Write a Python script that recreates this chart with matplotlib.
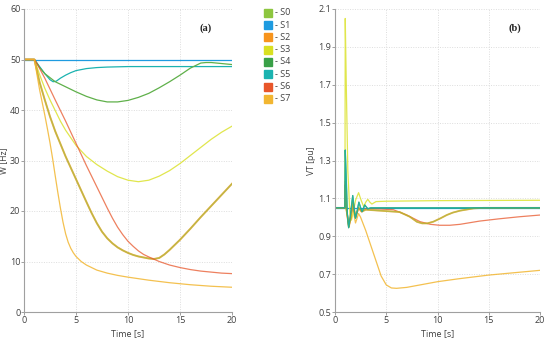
import matplotlib
matplotlib.use("Agg")
import matplotlib.pyplot as plt
from matplotlib.patches import Rectangle

plt.rcParams['font.family'] = ['Open Sans', 'DejaVu Sans']

series = ['S0', 'S1', 'S2', 'S3', 'S4', 'S5', 'S6', 'S7']
colors = ['#8dc63f', '#1e9be0', '#f7941d', '#d9e021', '#39a047', '#1bb3b0', '#e8562a', '#f2b631']

# ---------- Panel (a): W [Hz] ----------
a_t_flat = [0, 20]
a_S1 = [50, 50]

a_t_S5 = [0, 1, 1.25, 1.5, 1.75, 2, 2.25, 2.5, 2.8, 3.1, 3.5, 4, 4.5, 5, 6, 7, 8, 10, 14, 20]
a_S5 = [50, 50, 49.3, 48.6, 47.9, 47.2, 46.6, 46.0, 45.6, 45.7, 46.3, 46.9, 47.4, 47.8,
        48.2, 48.4, 48.5, 48.6, 48.6, 48.6]

a_t_S4 = [0, 1, 1.5, 2, 3, 4, 5, 6, 7, 8, 9, 10, 11, 12, 13, 14, 15, 16, 17, 17.5, 18, 19, 20]
a_S4 = [50, 50, 48.4, 47.2, 45.6, 44.6, 43.6, 42.7, 42.0, 41.6, 41.6, 41.9, 42.5, 43.3,
        44.4, 45.6, 46.9, 48.3, 49.3, 49.4, 49.4, 49.2, 49.0]

a_t_S3 = [0, 1, 1.5, 2, 2.5, 3, 3.5, 4, 5, 6, 7, 8, 9, 10, 11, 12, 13, 14, 15, 16, 17, 18, 19, 20]
a_S3 = [50, 50, 47.0, 44.3, 42.0, 39.9, 37.8, 36.0, 33.0, 30.8, 29.2, 27.9, 26.8, 26.1,
        25.8, 26.1, 26.9, 28.0, 29.4, 31.0, 32.6, 34.2, 35.6, 36.8]

a_t_S02 = [0, 1, 1.5, 2, 2.5, 3, 4, 5, 6, 6.5, 7, 7.5, 8, 8.5, 9, 9.5, 10, 10.5, 11, 11.5,
           12, 12.5, 13, 13.5, 14, 15, 16, 17, 18, 19, 20]
a_S02 = [50, 50, 45.5, 42.0, 38.7, 35.8, 30.8, 26.3, 21.8, 19.6, 17.6, 15.9, 14.6, 13.6,
         12.8, 12.2, 11.7, 11.3, 11.0, 10.8, 10.6, 10.5, 10.7, 11.4, 12.3, 14.3, 16.5,
         18.8, 21.0, 23.2, 25.4]

a_t_S6 = [0, 1, 1.3, 2, 3, 4, 5, 6, 7, 8, 8.5, 9, 9.5, 10, 10.5, 11, 11.5, 12, 13, 14, 15,
          16, 17, 18, 19, 20]
a_S6 = [50, 50, 49.0, 46.3, 42.0, 37.8, 33.4, 29.0, 24.8, 20.6, 18.6, 16.8, 15.3, 14.0,
        13.0, 12.1, 11.4, 10.9, 10.0, 9.3, 8.8, 8.4, 8.1, 7.9, 7.7, 7.6]

a_t_S7 = [0, 1, 1.25, 1.5, 1.75, 2, 2.25, 2.5, 2.75, 3, 3.25, 3.5, 3.75, 4, 4.25, 4.5,
          4.75, 5, 5.5, 6, 7, 8, 9, 10, 12, 14, 16, 18, 20]
a_S7 = [50, 50, 47.0, 44.0, 41.5, 39.0, 36.3, 33.5, 30.4, 27.0, 23.7, 20.6, 17.8, 15.5,
        13.8, 12.6, 11.7, 11.0, 10.0, 9.3, 8.3, 7.7, 7.25, 6.9, 6.3, 5.8, 5.4, 5.1, 4.9]

# ---------- Panel (b): VT [pu] ----------
b_S1 = [1.05, 1.05]

b_t_osc = [0, 0.97, 1.0, 1.1, 1.2, 1.33, 1.5, 1.73, 1.9, 2.0, 2.15, 2.33, 2.5, 2.65, 2.9, 3.2, 3.5, 20]
b_S45 = [1.05, 1.05, 1.355, 1.2, 1.02, 0.945, 1.01, 1.115, 1.03, 0.995, 1.03, 1.08, 1.05,
         1.03, 1.065, 1.045, 1.05, 1.05]

b_t_S3 = [0, 0.97, 1.0, 1.1, 1.25, 1.45, 1.6, 1.8, 2.0, 2.3, 2.55, 2.8, 3.0, 3.2, 3.4, 3.6, 4.0, 5, 10, 20]
b_S3 = [1.05, 1.05, 2.05, 1.7, 1.25, 1.02, 0.985, 1.03, 1.09, 1.13, 1.09, 1.056, 1.08,
        1.095, 1.08, 1.07, 1.083, 1.085, 1.088, 1.09]

b_t_S02 = [0, 0.97, 1.0, 1.1, 1.35, 1.55, 1.75, 2.0, 2.3, 2.6, 3.0, 4.4, 6.3, 7.3, 8.0, 8.5,
           9.0, 9.6, 10.3, 10.9, 11.5, 12.2, 13.5, 14.5, 20]
b_S02 = [1.05, 1.05, 1.17, 1.05, 0.95, 1.0, 1.08, 1.0, 1.05, 1.03, 1.04, 1.035, 1.028,
         1.003, 0.976, 0.968, 0.968, 0.977, 0.995, 1.012, 1.025, 1.035, 1.047, 1.05, 1.05]

b_t_S6 = [0, 0.97, 1.0, 1.1, 1.35, 1.55, 1.75, 2.0, 2.3, 2.6, 3.0, 4.4, 5.7, 7.0, 8.3, 9.3,
          10.2, 11.2, 12.2, 14.1, 16, 18, 20]
b_S6 = [1.05, 1.05, 1.19, 1.06, 0.95, 1.0, 1.07, 1.0, 1.05, 1.03, 1.045, 1.044, 1.04,
        1.012, 0.977, 0.963, 0.958, 0.958, 0.963, 0.98, 0.992, 1.003, 1.012]

b_t_S7 = [0, 0.97, 1.0, 1.1, 1.35, 1.7, 2.0, 2.3, 2.5, 3.0, 3.5, 4.0, 4.5, 5.0, 5.5, 6.0,
          7, 8, 10, 12, 15, 18, 20]
b_S7 = [1.05, 1.05, 1.12, 1.04, 0.95, 1.06, 0.97, 1.02, 1.0, 0.93, 0.85, 0.77, 0.69,
        0.643, 0.627, 0.625, 0.63, 0.64, 0.66, 0.675, 0.695, 0.71, 0.72]

a_yticks = [0, 10, 20, 30, 40, 50, 60]
b_yticks = [0.5, 0.7, 0.9, 1.1, 1.3, 1.5, 1.7, 1.9, 2.1]
xticks = [0, 5, 10, 15, 20]

fig = plt.figure(figsize=(5.5, 3.41), dpi=100)
axa = fig.add_axes([24/550, 29/341, 208/550, 303/341])
axb = fig.add_axes([335/550, 29/341, 205/550, 303/341])

lw = 0.9
c = dict(zip(series, colors))

# panel a
axa.plot(a_t_flat, a_S1, color=c['S1'], lw=lw)
axa.plot(a_t_S5, a_S5, color=c['S5'], lw=lw)
axa.plot(a_t_S4, a_S4, color='#5fb04a', lw=lw)
axa.plot(a_t_S3, a_S3, color=c['S3'], lw=lw, alpha=0.8)
axa.plot(a_t_S02, a_S02, color=c['S2'], lw=1.4, alpha=0.8)
axa.plot(a_t_S02, a_S02, color=c['S0'], lw=1.0, alpha=0.55)
axa.plot(a_t_S6, a_S6, color=c['S6'], lw=lw, alpha=0.75)
axa.plot(a_t_S7, a_S7, color=c['S7'], lw=lw, alpha=0.85)

# panel b
axb.plot(a_t_flat, b_S1, color=c['S1'], lw=lw)
axb.plot(b_t_S7, b_S7, color=c['S7'], lw=lw, alpha=0.85)
axb.plot(b_t_S3, b_S3, color=c['S3'], lw=lw, alpha=0.8)
axb.plot(b_t_S6, b_S6, color=c['S6'], lw=lw, alpha=0.75)
axb.plot(b_t_S02, b_S02, color=c['S2'], lw=1.3, alpha=0.8)
axb.plot(b_t_S02, b_S02, color=c['S0'], lw=1.0, alpha=0.55)
axb.plot(b_t_osc, b_S45, color=c['S4'], lw=lw, alpha=0.9)
axb.plot(b_t_osc, b_S45, color=c['S5'], lw=lw, alpha=0.8)

fs = 6.5
for ax in (axa, axb):
    ax.set_xlim(0, 20)
    ax.set_xticks(xticks)
    ax.grid(True, linestyle=(0, (1, 1.5)), color='#dddddd', linewidth=0.7)
    ax.set_axisbelow(True)
    for s in ('top', 'right'):
        ax.spines[s].set_visible(False)
    for s in ('left', 'bottom'):
        ax.spines[s].set_color('#a0a0a0')
        ax.spines[s].set_linewidth(0.8)
    ax.tick_params(labelsize=fs, colors='#404040', length=2, width=0.7, pad=1)
    ax.tick_params(axis='y', pad=0.6)
    ax.tick_params(color='#a0a0a0')
    ax.set_xlabel('Time [s]', fontsize=fs, color='#404040')
    ax.xaxis.set_label_coords(0.5, -0.056)

axa.set_ylim(0, 60)
axa.set_yticks(a_yticks)
axa.set_ylabel('W [Hz]', fontsize=6.2, color='#404040')
axa.yaxis.set_label_coords(-0.074, 0.5)
axb.set_ylim(0.5, 2.1)
axb.set_yticks(b_yticks)
axb.set_yticklabels([f'{v:.1f}' for v in b_yticks])
axb.set_ylabel('VT [pu]', fontsize=6.2, color='#404040')
axb.yaxis.set_label_coords(-0.095, 0.5)

axa.text(206/550, 1 - 28/341, '(a)', transform=fig.transFigure, ha='center', va='center',
         fontsize=7.5, fontweight='bold', family='Liberation Serif', color='#222222')
axb.text(515/550, 1 - 28/341, '(b)', transform=fig.transFigure, ha='center', va='center',
         fontsize=7.5, fontweight='bold', family='Liberation Serif', color='#222222')

# legend
for i, (s, col) in enumerate(zip(series, colors)):
    yc = 12.7 + 12.3 * i
    fig.patches.append(Rectangle((264/550, 1 - (yc + 4)/341), 8/550, 8/341,
                                 transform=fig.transFigure, color=col, figure=fig))
    fig.text(275/550, 1 - yc/341, '- ' + s, fontsize=6.5, color='#404040',
             ha='left', va='center')

fig.savefig('out.png', dpi=100)
